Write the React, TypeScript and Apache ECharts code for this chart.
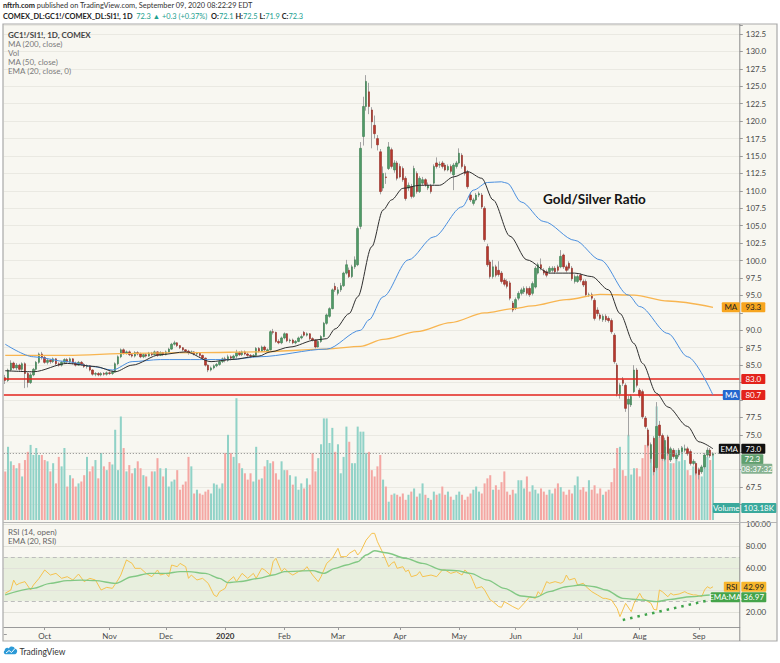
import { useEffect, useRef } from "react";
import * as echarts from "echarts";

// GC1!/SI1! daily
const HOLIDAYS = ["2019-11-28", "2019-12-25", "2020-01-01", "2020-01-20", "2020-02-17", "2020-04-10", "2020-05-25", "2020-07-03", "2020-09-07"];
const FIRST_DAY = "2019-09-11";
const SLOTS = 261; // 252 sessions + empty space right of the last bar

// [open, close, low, high]
const CANDLES: number[][] = [
  [83.2, 82.8, 82.3, 83.6], [82.8, 84.3, 82.6, 84.5], [84.3, 85.3, 84.1, 85.7], [85.3, 84.6, 84.4, 85.5], [84.6, 85.0, 84.3, 85.3],
  [85.0, 84.4, 84.2, 85.2], [84.4, 85.2, 84.2, 85.4], [85.2, 83.8, 81.7, 85.4], [83.8, 82.5, 81.8, 84.0], [82.5, 83.6, 82.3, 83.9],
  [83.6, 84.4, 83.4, 84.6], [84.4, 85.4, 84.2, 85.6], [85.4, 86.6, 85.2, 86.8], [86.6, 86.1, 85.8, 86.9], [86.1, 85.4, 85.2, 86.3],
  [85.4, 85.7, 85.1, 85.9], [85.7, 85.5, 85.2, 85.9], [85.5, 85.9, 85.3, 86.1], [85.9, 85.2, 85.0, 86.0], [85.2, 85.0, 84.8, 85.4],
  [85.0, 85.4, 84.8, 85.6], [85.4, 85.8, 85.2, 86.0], [85.8, 85.5, 85.3, 86.0], [85.5, 85.9, 85.3, 86.1], [85.9, 85.3, 85.1, 86.0],
  [85.3, 85.0, 84.8, 85.5], [85.0, 85.4, 84.9, 85.6], [85.4, 85.1, 84.9, 85.6], [85.1, 84.8, 84.6, 85.3], [84.8, 84.9, 84.5, 85.1],
  [84.9, 84.3, 84.1, 85.0], [84.3, 83.7, 83.5, 84.4], [83.7, 83.8, 83.4, 84.0], [83.8, 83.6, 83.4, 84.0], [83.6, 83.8, 83.4, 84.0],
  [83.8, 83.7, 83.5, 84.0], [83.7, 83.9, 83.5, 84.1], [83.9, 83.8, 83.6, 84.1], [83.8, 84.0, 83.6, 84.2], [84.0, 85.2, 83.9, 85.4],
  [85.2, 86.2, 85.0, 86.4], [86.2, 87.2, 86.0, 87.4], [87.2, 86.7, 86.5, 87.4], [86.7, 86.9, 86.5, 87.1], [86.9, 86.5, 86.3, 87.1],
  [86.5, 86.3, 86.1, 86.7], [86.3, 86.8, 86.1, 87.0], [86.8, 86.6, 86.4, 87.0], [86.6, 86.2, 86.0, 86.8], [86.2, 86.5, 86.0, 86.7],
  [86.5, 86.3, 86.1, 86.7], [86.3, 86.7, 86.2, 86.9], [86.7, 86.5, 86.3, 86.9], [86.5, 86.9, 86.4, 87.1], [86.9, 86.4, 86.2, 87.0],
  [86.4, 86.8, 86.3, 87.0], [86.8, 86.5, 86.3, 86.9], [86.5, 86.9, 86.4, 87.1], [86.9, 87.3, 86.8, 87.5], [87.3, 88.0, 87.2, 88.2],
  [88.0, 88.2, 87.8, 88.5], [88.2, 87.8, 87.6, 88.3], [87.8, 87.5, 87.3, 87.9], [87.5, 87.2, 87.0, 87.6], [87.2, 87.0, 86.8, 87.3],
  [87.0, 86.8, 86.5, 87.2], [86.8, 86.9, 86.6, 87.1], [86.9, 86.6, 86.4, 87.0], [86.6, 86.7, 86.4, 86.9], [86.7, 86.4, 86.2, 86.8],
  [86.4, 86.0, 85.8, 86.5], [86.0, 85.0, 84.8, 86.1], [85.0, 84.3, 84.0, 85.1], [84.3, 84.6, 84.1, 84.8], [84.6, 84.9, 84.4, 85.1],
  [84.9, 85.1, 84.7, 85.3], [85.1, 85.5, 84.9, 85.7], [85.5, 85.9, 85.3, 86.1], [85.9, 85.7, 85.4, 86.2], [85.7, 86.2, 85.5, 86.5],
  [86.2, 86.0, 85.7, 86.4], [86.0, 86.3, 85.8, 86.5], [86.3, 86.8, 86.0, 87.2], [86.8, 86.5, 86.3, 87.0], [86.5, 86.9, 86.3, 87.1],
  [86.9, 86.6, 86.4, 87.1], [86.6, 86.4, 86.2, 86.8], [86.4, 86.3, 86.0, 86.6], [86.3, 86.4, 86.1, 86.6], [86.4, 87.4, 86.3, 87.6],
  [87.4, 87.0, 86.8, 87.6], [87.0, 87.6, 86.9, 87.8], [87.6, 87.2, 87.0, 87.8], [86.9, 87.2, 86.7, 87.4], [87.2, 89.8, 87.1, 90.0],
  [89.8, 89.7, 89.4, 90.2], [89.7, 88.4, 88.2, 89.8], [88.4, 88.2, 88.0, 88.7], [88.2, 88.9, 88.0, 89.1], [88.9, 89.5, 88.7, 89.7],
  [89.5, 88.5, 88.3, 89.6], [88.5, 88.6, 88.2, 88.8], [88.6, 88.2, 88.0, 88.8], [88.2, 88.4, 88.0, 88.6], [88.4, 88.9, 88.3, 89.1],
  [88.9, 89.1, 88.7, 89.4], [89.7, 89.3, 89.1, 89.9], [89.3, 89.5, 89.1, 89.7], [89.5, 88.8, 88.6, 89.6], [88.8, 88.6, 88.4, 89.0],
  [88.6, 87.6, 87.4, 88.7], [87.6, 88.4, 87.5, 88.6], [88.4, 89.1, 88.2, 89.3], [89.1, 91.0, 89.0, 91.2], [91.0, 92.2, 90.8, 92.4],
  [92.0, 93.1, 91.8, 93.3], [93.1, 95.8, 93.0, 96.0], [96.3, 95.8, 95.5, 96.8], [95.3, 95.8, 95.0, 96.2], [95.8, 96.4, 95.5, 96.8],
  [96.4, 98.2, 96.2, 98.4], [98.2, 99.4, 98.0, 100.1], [98.6, 97.7, 97.5, 99.0], [97.7, 99.1, 97.5, 99.4], [99.1, 100.1, 98.8, 100.6],
  [99.4, 104.6, 99.2, 104.9], [104.9, 116.1, 104.5, 117.0], [117.8, 122.1, 116.5, 123.5], [122.1, 125.7, 121.5, 126.6], [124.2, 122.1, 121.0, 125.5],
  [121.6, 119.9, 116.1, 122.0], [119.4, 118.2, 117.5, 120.8], [117.5, 116.6, 115.8, 118.0], [115.6, 109.9, 109.5, 116.0], [110.4, 112.5, 110.0, 113.5],
  [112.0, 111.9, 111.0, 112.6], [113.2, 116.3, 113.0, 117.0], [115.9, 113.5, 113.2, 116.2], [113.0, 114.0, 112.6, 114.4], [114.0, 111.8, 111.5, 114.3],
  [113.5, 112.0, 111.8, 113.9], [113.2, 111.6, 111.3, 113.5], [111.8, 108.9, 108.6, 112.1], [110.4, 110.8, 110.0, 111.2], [110.6, 109.2, 108.9, 111.0],
  [109.2, 113.2, 109.0, 113.6], [112.5, 109.9, 109.6, 112.8], [109.9, 111.8, 109.7, 112.1], [111.1, 111.6, 110.8, 112.0], [111.6, 110.9, 110.6, 111.8],
  [110.4, 110.8, 110.1, 111.2], [110.7, 109.9, 109.6, 111.0], [111.1, 113.5, 110.9, 113.8], [114.0, 113.5, 113.2, 114.8], [113.7, 113.8, 113.3, 114.2],
  [114.0, 113.5, 113.2, 114.3], [113.7, 113.0, 112.8, 114.0], [113.0, 113.5, 112.8, 113.8], [113.5, 112.8, 112.5, 113.8], [112.3, 113.7, 110.1, 114.0],
  [113.5, 114.0, 113.2, 114.3], [114.0, 115.4, 113.8, 116.1], [115.1, 113.5, 113.2, 115.4], [113.5, 112.5, 112.2, 113.8], [112.7, 110.6, 110.3, 113.0],
  [109.4, 108.7, 108.4, 109.8], [108.2, 108.7, 107.9, 109.0], [108.7, 109.4, 108.5, 109.7], [109.4, 109.6, 109.1, 109.9], [109.4, 107.7, 107.4, 109.7],
  [107.5, 103.0, 102.7, 107.8], [102.0, 99.4, 99.1, 102.4], [99.8, 97.7, 97.4, 100.1], [97.7, 99.1, 97.4, 100.1], [99.1, 97.9, 97.6, 99.4],
  [98.6, 98.0, 97.7, 99.9], [98.2, 97.0, 96.7, 98.5], [97.2, 96.6, 96.3, 97.5], [97.0, 96.3, 96.0, 97.3], [96.8, 94.6, 94.3, 97.1],
  [93.9, 92.9, 92.6, 94.2], [93.2, 94.4, 92.9, 94.7], [94.6, 95.3, 94.3, 95.6], [95.3, 95.8, 95.0, 96.1], [95.5, 96.0, 95.2, 96.3],
  [96.0, 95.3, 95.0, 96.3], [96.0, 95.1, 94.8, 96.3], [95.3, 96.7, 95.0, 97.0], [96.2, 98.9, 96.0, 99.2], [98.2, 99.4, 98.0, 99.7],
  [99.4, 98.9, 98.6, 100.3], [98.6, 98.2, 97.9, 98.9], [98.4, 97.9, 97.6, 98.7], [98.4, 98.9, 98.1, 99.2], [98.6, 98.9, 98.3, 99.2],
  [98.9, 98.4, 98.1, 99.2], [99.1, 98.6, 98.3, 99.4], [99.1, 100.6, 98.9, 101.5], [100.8, 99.1, 98.8, 101.0], [99.1, 98.6, 98.3, 99.4],
  [99.6, 98.9, 98.6, 99.9], [98.9, 97.4, 97.1, 99.2], [97.0, 97.7, 96.7, 98.0], [97.0, 97.7, 96.8, 98.0], [97.9, 97.2, 96.9, 98.2],
  [97.0, 96.5, 96.2, 97.3], [97.0, 95.1, 94.8, 97.3], [95.1, 95.1, 94.8, 95.4], [95.1, 94.6, 94.3, 95.4], [94.3, 91.7, 91.4, 94.6],
  [92.9, 92.4, 92.0, 93.3], [92.2, 91.7, 91.4, 92.5], [91.5, 92.0, 91.2, 92.3], [92.0, 91.5, 91.2, 92.3], [91.7, 91.4, 91.1, 92.0],
  [91.4, 89.8, 89.5, 91.7], [89.3, 85.5, 85.2, 89.6], [85.0, 80.9, 80.5, 85.3], [80.9, 82.1, 80.2, 82.4], [82.9, 82.4, 82.0, 83.3],
  [82.1, 78.8, 78.3, 82.4], [79.4, 80.1, 74.8, 80.6], [79.3, 80.5, 79.0, 80.8], [81.2, 84.3, 81.0, 85.0], [84.3, 82.1, 81.8, 84.6],
  [81.4, 80.6, 80.3, 81.7], [81.2, 77.6, 77.3, 81.5], [77.4, 76.2, 75.9, 77.7], [75.7, 73.5, 73.2, 76.0], [71.6, 73.6, 71.0, 73.9],
  [74.5, 69.7, 69.2, 74.8], [70.3, 76.2, 69.9, 79.7], [76.4, 74.9, 74.6, 77.0], [74.9, 71.6, 71.3, 75.2], [71.5, 74.2, 71.2, 74.6],
  [74.7, 72.3, 72.0, 75.0], [71.4, 73.0, 71.1, 73.3], [72.8, 71.9, 71.6, 73.1], [71.6, 72.1, 71.3, 72.4], [72.1, 72.8, 71.8, 73.1],
  [72.6, 73.1, 72.3, 73.4], [72.8, 73.0, 72.5, 73.6], [73.0, 72.3, 72.0, 73.3], [72.6, 70.9, 70.6, 72.9], [70.9, 71.2, 70.6, 71.5],
  [70.9, 69.5, 69.2, 71.2], [70.0, 69.3, 68.6, 70.3], [69.7, 70.4, 69.4, 70.7], [70.4, 72.1, 70.1, 72.4], [72.1, 72.8, 71.8, 73.2],
  [72.8, 72.0, 71.7, 73.1], [72.1, 72.3, 71.9, 72.5],
];

// volume in thousands of contracts
const VOLUME_K: number[] = [
  77, 116, 93, 87, 82, 90, 69, 95, 108, 119, 103, 114, 103, 103, 95, 93, 77, 90, 58, 100,
  85, 114, 53, 71, 66, 53, 58, 61, 71, 100, 77, 85, 95, 66, 106, 85, 79, 92, 88, 143,
  79, 164, 114, 77, 87, 74, 82, 93, 82, 71, 69, 53, 77, 77, 98, 82, 69, 82, 53, 61,
  64, 79, 48, 56, 61, 100, 85, 42, 48, 42, 40, 45, 48, 42, 58, 56, 50, 58, 106, 135,
  106, 100, 193, 90, 82, 74, 64, 74, 61, 116, 64, 66, 85, 95, 90, 93, 74, 64, 93, 79,
  79, 71, 56, 69, 48, 58, 50, 66, 56, 106, 77, 98, 120, 161, 161, 122, 146, 108, 120, 74,
  100, 148, 124, 90, 90, 148, 140, 140, 106, 108, 79, 69, 85, 103, 64, 53, 29, 40, 42, 40,
  37, 42, 32, 40, 45, 50, 37, 42, 58, 40, 35, 32, 45, 40, 42, 53, 40, 45, 37, 32,
  40, 45, 40, 32, 37, 42, 48, 53, 45, 42, 58, 66, 71, 48, 55, 48, 60, 77, 45, 40,
  48, 42, 63, 63, 50, 69, 45, 55, 48, 42, 50, 45, 40, 48, 42, 50, 58, 52, 45, 40,
  48, 42, 55, 69, 48, 52, 45, 63, 48, 55, 42, 50, 40, 45, 48, 60, 82, 114, 116, 79,
  70, 135, 72, 82, 82, 69, 98, 119, 135, 109, 85, 180, 132, 103, 116, 132, 90, 90, 111, 93,
  116, 95, 79, 71, 85, 90, 82, 69, 103, 100, 95, 103.18,
];

// indicator lines read at points along their course: [bar index, value]
const MA200: number[][] = [
  [0, 86.4], [22, 86.4], [45, 86.7], [69, 86.8], [90, 86.9], [114, 87.3], [126, 87.7], [134, 88.7], [146, 89.8],
  [158, 91.1], [170, 92.5], [180, 93.1], [187, 93.5], [199, 94.4], [211, 95.15], [223, 95.05], [235, 94.2], [251, 93.3],
];
const MA50: number[][] = [
  [0, 88.0], [10, 86.2], [22, 85.5], [31, 84.8], [38, 84.3], [45, 85.5], [55, 85.8], [69, 85.8], [80, 85.8], [90, 86.2],
  [114, 87.3], [126, 90.0], [129, 91.5], [134, 94.8], [143, 100.1], [152, 103.4], [162, 107.7], [166, 110.1], [171, 111.2],
  [176, 111.3], [178, 111.1], [183, 108.4], [191, 105.6], [202, 102.9], [211, 100.1], [221, 95.05], [225, 93.4], [235, 89.55],
  [242, 86.2], [251, 80.7],
];
const EMA20: number[][] = [
  [0, 84.2], [10, 84.05], [22, 85.25], [32, 84.8], [39, 84.05], [45, 85.0], [55, 86.5], [64, 86.9], [73, 85.5], [80, 85.8],
  [90, 86.3], [94, 86.9], [101, 87.6], [110, 88.6], [114, 88.8], [117, 90.2], [122, 92.4], [125, 94.8], [130, 102.0],
  [134, 107.25], [137, 108.7], [141, 110.36], [147, 110.8], [154, 110.8], [159, 112.0], [164, 112.75], [169, 111.8],
  [173, 108.7], [179, 103.5], [185, 100.1], [193, 98.2], [202, 98.2], [208, 97.7], [214, 95.8], [218, 92.4], [223, 88.1],
  [226, 85.25], [231, 80.95], [235, 79.0], [242, 76.2], [246, 74.0], [251, 73.0],
];
const RSI: number[][] = [
  [0, 37], [2, 40], [3, 49], [4, 44.5], [5, 46], [7, 47.6], [9, 40], [10, 44.5], [12, 50.6], [14, 58.2], [16, 53.6], [18, 55.1],
  [20, 50.6], [22, 52.1], [24, 49.1], [26, 54.5], [28, 47.6], [30, 50.6], [32, 49.1], [34, 40], [36, 42.4], [38, 41.5], [40, 49.1],
  [41, 53.6], [43, 67.3], [45, 64.2], [46, 59.7], [48, 59.7], [50, 55.1], [52, 52.1], [54, 58.2], [55, 53.6], [57, 55.1], [58, 52.1],
  [59, 62.7], [61, 61.2], [62, 64.2], [64, 61.2], [65, 50.6], [66, 53.6], [68, 49.1], [70, 50.6], [72, 46], [74, 35.5], [75, 34],
  [76, 38.5], [77, 40], [78, 41.5], [79, 47.6], [81, 52.1], [82, 47.6], [84, 55.1], [86, 50.6], [88, 55.1], [89, 50.6], [91, 59.7],
  [92, 58.2], [94, 53.6], [95, 65.7], [96, 68.8], [98, 56.7], [99, 59.7], [101, 55.1], [102, 53.6], [104, 56.7], [106, 58.2],
  [107, 61.2], [109, 53.6], [111, 47.6], [112, 52.1], [114, 64.2], [116, 68.8], [118, 77.9], [119, 70.3], [121, 70.3], [122, 73.3],
  [124, 76.4], [125, 71.8], [126, 74.8], [128, 85.4], [130, 91.5], [131, 91.5], [132, 83.9], [134, 73.3], [136, 61.2], [137, 64.2],
  [138, 65.7], [139, 59.7], [141, 61.2], [142, 56.7], [143, 58.2], [144, 52.1], [146, 53.6], [147, 56.7], [148, 52.1], [151, 53.6],
  [153, 52.1], [155, 58.2], [156, 58.2], [158, 55.1], [160, 56.7], [162, 53.6], [163, 58.2], [165, 53.6], [166, 47.6], [167, 41.5],
  [169, 43], [170, 40], [172, 30.9], [173, 29.4], [175, 24.9], [176, 24.3], [177, 29.4], [179, 26.4], [180, 24.9], [182, 22.4],
  [184, 27.9], [186, 33.9], [188, 32.4], [189, 38.5], [190, 35.5], [192, 47.6], [193, 46.1], [195, 47.6], [197, 46.1], [198, 47.6],
  [199, 53.6], [200, 49.1], [202, 50.6], [203, 44.5], [205, 46.1], [206, 43], [208, 38.5], [210, 35.5], [212, 32.4], [213, 32.4],
  [215, 30.9], [217, 23.3], [218, 15.8], [219, 21.8], [220, 27.9], [222, 20.3], [223, 27.9], [225, 37], [226, 32.4], [229, 27.9],
  [230, 22.4], [231, 21.8], [232, 40], [233, 38.5], [235, 33.9], [236, 37], [237, 35.5], [239, 36.4], [241, 38.5], [242, 37],
  [244, 35.5], [245, 35.5], [247, 33.9], [248, 40], [249, 43], [250, 41.5], [251, 42.99],
];
const RSI_EMA: number[][] = [
  [0, 35.5], [10, 41.5], [16, 46], [22, 48.5], [27, 49], [32, 48.5], [39, 46], [45, 52.1], [51, 55.1], [57, 55.1], [62, 56.7],
  [65, 56.7], [71, 55.1], [76, 50.6], [79, 46.7], [83, 47.6], [90, 50.6], [95, 53.6], [99, 56.7], [109, 57.6], [113, 55.1],
  [117, 59.7], [121, 62.7], [125, 65.7], [128, 71.8], [131, 75.7], [135, 73.9], [142, 68.8], [148, 64.2], [155, 58.2],
  [160, 57.6], [165, 55.1], [171, 49], [177, 41.5], [183, 34.5], [188, 33.3], [193, 38.5], [199, 43], [204, 44.5], [209, 43],
  [213, 40], [219, 32.4], [226, 30.9], [231, 29.4], [236, 31.5], [243, 33.9], [250, 35.5], [251, 36.97],
];
const RSI_TREND: number[][] = [[219, 12.8], [250, 31]];
const LEVELS = [83.0, 80.7];
const COUNTDOWN = "08:37:32";

const MONTHS = ["Jan", "Feb", "Mar", "Apr", "May", "Jun", "Jul", "Aug", "Sep", "Oct", "Nov", "Dec"];
const FONT = 'Lato, "Open Sans", sans-serif';
const AXIS_X = 739.8;

function tradingDays(first: string, count: number): string[] {
  const out: string[] = [];
  const d = new Date(first + "T12:00:00Z");
  while (out.length < count) {
    const wd = d.getUTCDay();
    const s = d.toISOString().slice(0, 10);
    if (wd !== 0 && wd !== 6 && !HOLIDAYS.includes(s)) out.push(s);
    d.setUTCDate(d.getUTCDate() + 1);
  }
  return out;
}

const DATES = tradingDays(FIRST_DAY, SLOTS);
const MONTH_START = new Set<number>();
DATES.forEach((d, i) => {
  if (i > 0 && d.slice(5, 7) !== DATES[i - 1].slice(5, 7)) MONTH_START.add(i);
});

const UP = "#4f9a66";
const DOWN = "#b7382d";

function text(x: number, y: number, t: string, extra: any = {}) {
  return {
    type: "text", x, y, z: 50, silent: true,
    style: { text: t, fill: "#333", fontSize: 8, fontFamily: FONT, verticalAlign: "middle", textVerticalAlign: "middle", ...extra },
  };
}

function box(left: number, yc: number, w: number, t: string, bg: string, fg: string) {
  return [
    { type: "rect", z: 60, silent: true, shape: { x: left, y: yc - 5, width: w, height: 10, r: 1 }, style: { fill: bg } },
    {
      type: "text", z: 61, silent: true, x: left + w / 2, y: yc,
      style: { text: t, fill: fg, fontSize: 8, fontFamily: FONT, align: "center", verticalAlign: "middle", textAlign: "center", textVerticalAlign: "middle" },
    },
  ];
}

function badge(yc: number, name: string, nameW: number, value: string, valW: number, bg: string, fg: string) {
  const out: any[] = [];
  if (name) out.push(...box(AXIS_X - nameW, yc, nameW, name, bg, fg));
  if (value) out.push(...box(AXIS_X + 1.5, yc, valW, value, bg, fg));
  return out;
}

const last = <T,>(a: T[]) => a[a.length - 1];

export default function App() {
  const ref = useRef<HTMLDivElement>(null);

  useEffect(() => {
    document.body.style.margin = "0";
    const chart = echarts.init(ref.current!, null, { renderer: "svg" });

    const bodies = CANDLES.map(([o, c]) => [o, c, Math.min(o, c), Math.max(o, c)]);
    const volume = VOLUME_K.map((v, i) => ({
      value: v,
      itemStyle: { color: CANDLES[i][1] >= CANDLES[i][0] ? "#90d2c7" : "#f4a7a3" },
    }));
    const lastClose = last(CANDLES)[1];

    // price-scale values that sit under a badge; their tick labels are hidden, as on the original
    const priceBadges = [last(MA200)[1], ...LEVELS, last(EMA20)[1], lastClose - 0.8, lastClose - 2.15];
    const rsiBadges = [last(RSI)[1], last(RSI_EMA)[1] - 3.6];

    const catAxis = (gridIndex: number, shown: boolean) => ({
      type: "category",
      gridIndex,
      data: DATES,
      boundaryGap: true,
      axisLine: { show: shown, lineStyle: { color: "#9a9a9a" } },
      axisTick: {
        show: shown, length: 3, alignWithLabel: true, lineStyle: { color: "#9a9a9a" },
        interval: (i: number) => MONTH_START.has(i),
      },
      axisLabel: {
        show: shown, margin: 5, fontSize: 8, fontFamily: FONT, color: "#4a4a4a",
        interval: (i: number) => MONTH_START.has(i),
        formatter: (v: string) => {
          const m = +v.slice(5, 7);
          return m === 1 ? `{y|${v.slice(0, 4)}}` : MONTHS[m - 1];
        },
        rich: { y: { fontWeight: "bold", fontSize: 8, fontFamily: FONT, color: "#333" } },
      },
      splitLine: { show: false },
    });

    const lineSeries = (data: number[][], color: string, width: number, x = 0, y = 0, smooth: number | boolean = 0.3) => ({
      type: "line", xAxisIndex: x, yAxisIndex: y, data, symbol: "none", smooth, z: 5, silent: true,
      lineStyle: { color, width }, smoothMonotone: "x",
    });

    chart.setOption({
      animation: false,
      backgroundColor: "#ffffff",
      textStyle: { fontFamily: FONT },
      grid: [
        { left: 3.8, right: 40.2, top: 25, height: 497 },
        { left: 3.8, right: 40.2, top: 390, height: 130 },
        { left: 3.8, right: 40.2, top: 522, height: 105 },
        { left: 3.8, right: 40.2, top: 524, height: 110 },
      ],
      xAxis: [
        catAxis(0, false),
        catAxis(1, false),
        catAxis(2, true),
        { type: "value", gridIndex: 3, show: false, min: 0, max: 1 },
      ],
      yAxis: [
        {
          type: "value", gridIndex: 0, position: "right", min: 62.5, max: 133.79, interval: 2.5,
          axisLine: { show: false },
          axisTick: { show: true, length: 3, lineStyle: { color: "#9a9a9a" } },
          axisLabel: {
            margin: 6, fontSize: 8, fontFamily: FONT, color: "#4a4a4a",
            formatter: (v: number) => {
              const k = v / 2.5;
              if (Math.abs(k - Math.round(k)) > 1e-6 || v < 66) return "";
              if (priceBadges.some((b) => Math.abs(b - v) < 1.0)) return "";
              return v.toFixed(1);
            },
          },
          splitLine: { show: true, lineStyle: { color: "#eae9e2", width: 1 } },
        },
        { type: "value", gridIndex: 1, min: 0, max: 206, show: false, splitLine: { show: false } },
        { type: "value", gridIndex: 2, min: 6.36, max: 101.82, show: false, splitLine: { show: false } },
        {
          type: "value", gridIndex: 3, position: "right", min: 0, max: 100, interval: 20,
          axisLine: { show: false },
          axisTick: { show: true, length: 3, lineStyle: { color: "#9a9a9a" } },
          axisLabel: {
            margin: 6, fontSize: 8, fontFamily: FONT, color: "#4a4a4a",
            formatter: (v: number) => (v <= 0 || rsiBadges.some((b) => Math.abs(b - v) < 8) ? "" : v.toFixed(2)),
          },
          splitLine: { show: false },
        },
      ],
      series: [
        {
          name: "Vol", type: "bar", xAxisIndex: 1, yAxisIndex: 1, data: volume, barWidth: "72%", z: 1, silent: true,
        },
        {
          name: "wicks", type: "candlestick", xAxisIndex: 0, yAxisIndex: 0, data: CANDLES, barWidth: 1, z: 3, silent: true,
          itemStyle: { color: "#a3a3a3", color0: "#a3a3a3", borderColor: "#a3a3a3", borderColor0: "#a3a3a3", borderWidth: 1 },
        },
        {
          name: "GC1!/SI1!", type: "candlestick", xAxisIndex: 0, yAxisIndex: 0, data: bodies, barWidth: 2, z: 4, silent: true,
          itemStyle: { color: UP, color0: DOWN, borderColor: "#3d7d51", borderColor0: "#922c23", borderWidth: 0.6 },
          markLine: {
            silent: true, symbol: ["none", "none"], label: { show: false },
            data: [
              ...LEVELS.map((v) => ({ yAxis: v, lineStyle: { color: "#e3231b", width: 1.5, type: "solid" } })),
              { yAxis: lastClose, lineStyle: { color: "#8a8a8a", width: 1, type: [1, 2] } },
            ],
          },
        },
        lineSeries(MA200, "#f8b550", 1.3),
        lineSeries(MA50, "#4a8fdf", 1),
        lineSeries(EMA20, "#2e2e2e", 1),
        {
          ...lineSeries(RSI, "#f5c24e", 1, 2, 2, false),
          markArea: {
            silent: true,
            itemStyle: { color: "rgba(120,185,100,0.13)" },
            data: [[{ yAxis: 30 }, { yAxis: 70 }]],
          },
          markLine: {
            silent: true, symbol: ["none", "none"], label: { show: false },
            data: [
              ...[100, 80, 60, 40, 20].map((v) => ({ yAxis: v, lineStyle: { color: "#e2e2da", width: 1, type: "solid" } })),
              ...[70, 30].map((v) => ({ yAxis: v, lineStyle: { color: "#bdbdbd", width: 1, type: [4, 3] } })),
            ],
          },
        },
        lineSeries(RSI_EMA, "#82c884", 1.4, 2, 2),
        {
          type: "line", xAxisIndex: 2, yAxisIndex: 2, data: RSI_TREND, symbol: "none", z: 6, silent: true,
          lineStyle: { color: "#3ea34a", width: 2.5, type: [2.5, 5] },
        },
      ],
    });

    const py = (v: number) => chart.convertToPixel({ xAxisIndex: 0, yAxisIndex: 0 }, [0, v])[1] as number;
    const ry = (v: number) => chart.convertToPixel({ xAxisIndex: 2, yAxisIndex: 2 }, [0, v])[1] as number;
    const volBottom = chart.convertToPixel({ xAxisIndex: 1, yAxisIndex: 1 }, [0, 0])[1] as number;

    echarts.graphic.registerShape(
      "tvcloud",
      echarts.graphic.extendPath("M4 11 C1 11 0 8 2 6.5 C2 3.5 5 2.5 7 4 C8 1 13 1 14 4.5 C16.5 4.5 17.5 7.5 16 9.5 C15.5 10.5 14.5 11 13.5 11 Z", {}) as any
    );

    const graphics: any[] = [
      // chart canvas and frame
      { type: "rect", z: -10, silent: true, shape: { x: 3, y: 24, width: 774, height: 617 }, style: { fill: "#f8f7f1" } },
      { type: "rect", z: 40, silent: true, shape: { x: 3, y: 24, width: 774, height: 617 }, style: { fill: "none", stroke: "#a9a9a9", lineWidth: 1.2 } },
      { type: "line", z: 40, silent: true, shape: { x1: AXIS_X, y1: 24, x2: AXIS_X, y2: 641 }, style: { stroke: "#8c8c8c", lineWidth: 1 } },
      { type: "line", z: 40, silent: true, shape: { x1: 3, y1: 522.5, x2: 777, y2: 522.5 }, style: { stroke: "#b5b5b5", lineWidth: 1 } },
      // header
      text(3, 5.5, "{b|nftrh.com} published on TradingView.com, September 09, 2020 08:22:29 EDT", {
        fill: "#333", fontSize: 7.4,
        rich: { b: { fontWeight: "bold", fontSize: 7.4, fontFamily: FONT, fill: "#222" } },
      }),
      text(3, 16, "{b|COMEX_DL:GC1!/COMEX_DL:SI1!, 1D}  {g|72.3 ▲ +0.3 (+0.37%)}  {b|O:}{g|72.1} {b|H:}{g|72.5} {b|L:}{g|71.9} {b|C:}{g|72.3}", {
        fill: "#333", fontSize: 7.4,
        rich: {
          b: { fontWeight: "bold", fontSize: 7.4, fontFamily: FONT, fill: "#222" },
          g: { fontSize: 7.4, fontFamily: FONT, fill: "#22a08f" },
        },
      }),
      // pane legends
      text(8, 34.5, "GC1!/SI1!, 1D, COMEX", { fill: "#444", fontWeight: "bold" }),
      text(8, 43.5, "MA (200, close)", { fill: "#7a7a7a" }),
      text(8, 52.5, "Vol", { fill: "#7a7a7a" }),
      text(8, 61.5, "MA (50, close)", { fill: "#7a7a7a" }),
      text(8, 70.5, "EMA (20, close, 0)", { fill: "#7a7a7a" }),
      text(8, 531.5, "RSI (14, open)", { fill: "#666" }),
      text(8, 540.5, "EMA (20, RSI)", { fill: "#666" }),
      text(543, 199, "Gold/Silver Ratio", { fill: "#141414", fontSize: 13.5, fontWeight: "bold" }),
      // footer logo
      { type: "tvcloud", x: 3, y: 645, scaleX: 0.85, scaleY: 0.85, z: 50, silent: true, style: { fill: "#2c9ad7" } },
      { type: "polyline", z: 51, silent: true, shape: { points: [[6, 653], [9, 650.5], [11.5, 652.5], [15, 648.5]] }, style: { stroke: "#fff", lineWidth: 1, fill: "none" } },
      text(19.5, 651.5, "TradingView", { fill: "#333", fontSize: 8.5 }),
      // price-scale badges
      ...badge(py(last(MA200)[1]), "MA", 18, last(MA200)[1].toFixed(1), 24, "#f7a51f", "#1e1e1e"),
      ...badge(py(last(MA50)[1]), "MA", 17, "", 24, "#2468cf", "#ffffff"),
      ...LEVELS.flatMap((v) => badge(py(v), "", 0, v.toFixed(1), 24, "#e3231b", "#ffffff")),
      ...badge(py(last(EMA20)[1]), "EMA", 21, last(EMA20)[1].toFixed(1), 24, "#111111", "#ffffff"),
      ...badge(py(lastClose) + 5.5, "", 0, lastClose.toFixed(1), 22, "#5f9f6e", "#ffffff"),
      ...badge(py(lastClose) + 15, "", 0, COUNTDOWN, 31, "#86b291", "#ffffff"),
      ...badge(volBottom - 12, "Volume", 27, last(VOLUME_K).toFixed(2) + "K", 35, "#3aa99c", "#ffffff"),
      ...badge(ry(last(RSI)[1]), "RSI", 16, last(RSI)[1].toFixed(2), 25, "#f8b62c", "#222222"),
      ...badge(ry(last(RSI_EMA)[1]) + 4, "EMA:MA", 29, last(RSI_EMA)[1].toFixed(2), 25, "#45a44a", "#ffffff"),
    ];

    chart.setOption({ graphic: graphics });

    return () => chart.dispose();
  }, []);

  return <div ref={ref} style={{ width: 780, height: 663 }} />;
}
